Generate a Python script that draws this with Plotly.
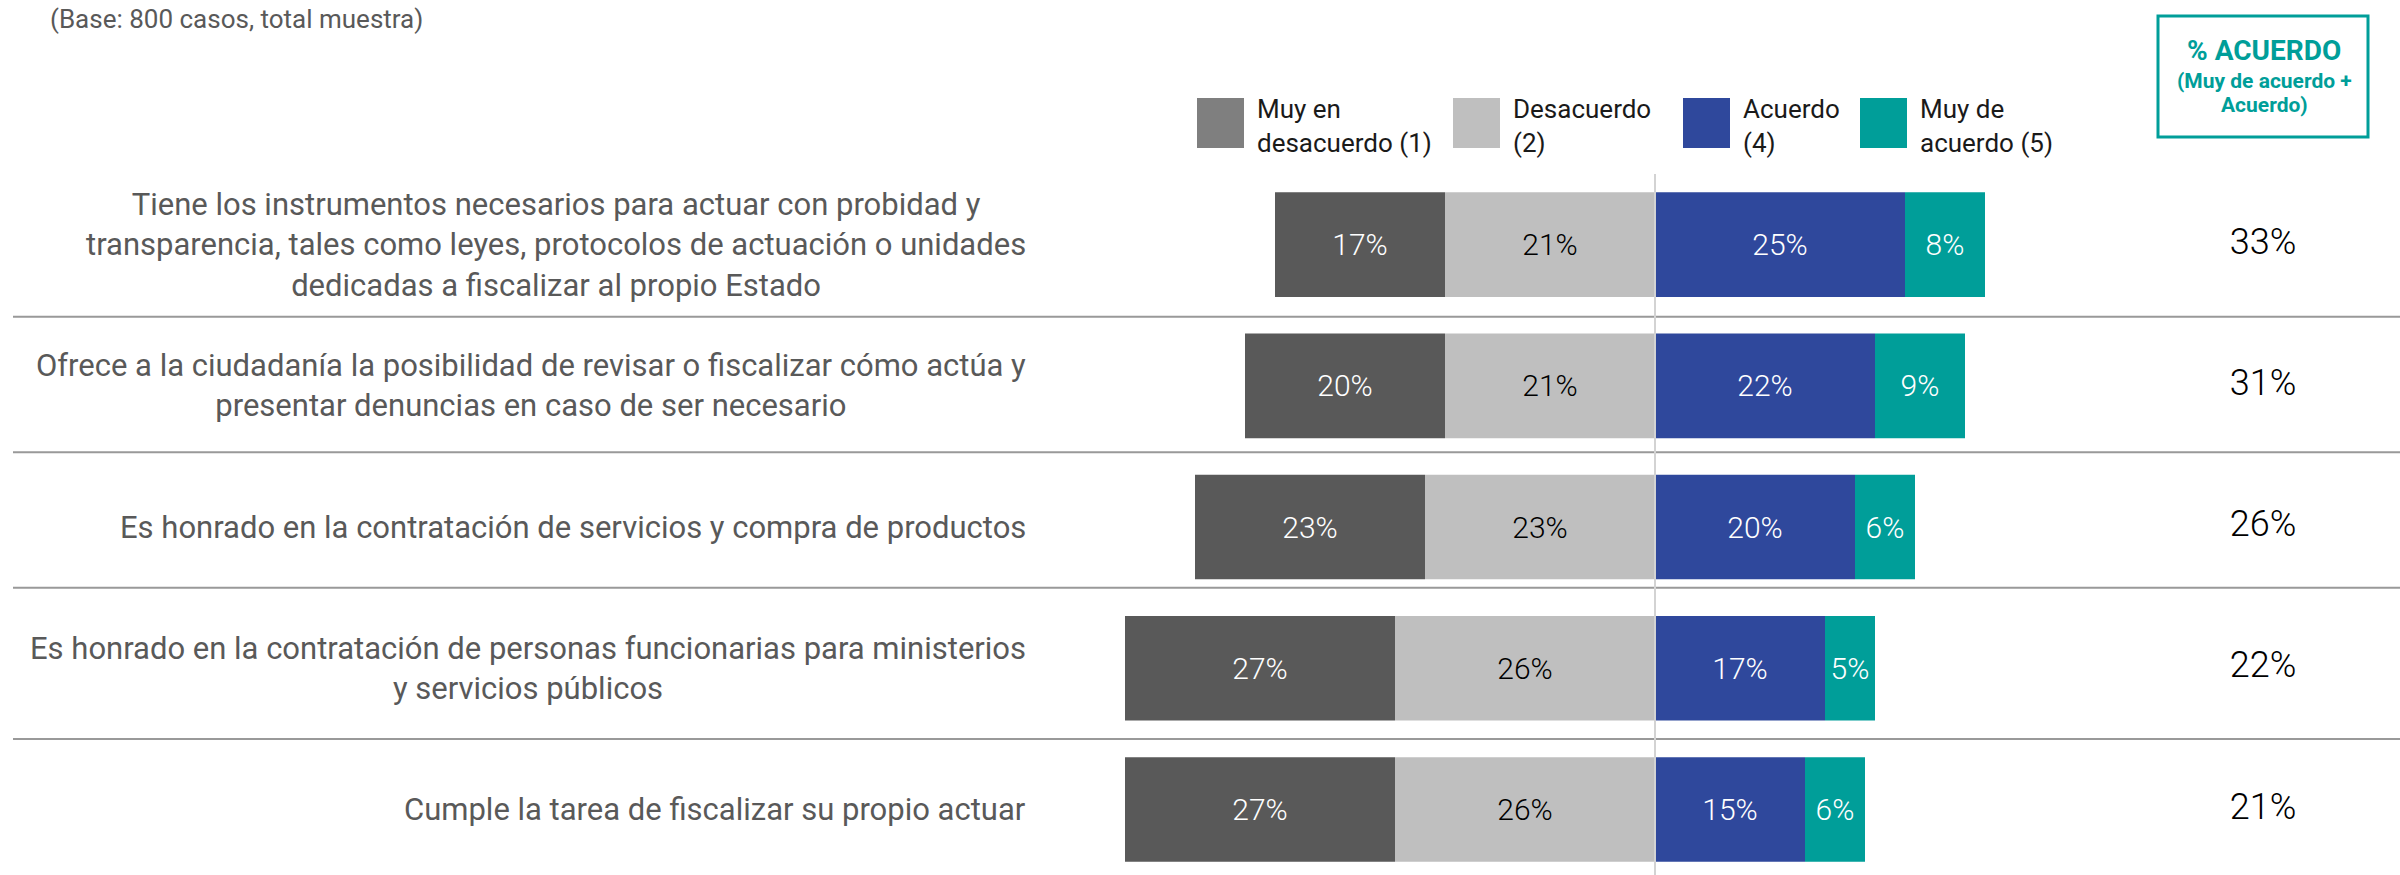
import plotly.graph_objects as go

afirmaciones = [
    'Tiene los instrumentos necesarios para actuar con probidad y<br>transparencia, tales como leyes, protocolos de actuación o unidades<br>dedicadas a fiscalizar al propio Estado',
    'Ofrece a la ciudadanía la posibilidad de revisar o fiscalizar cómo actúa y<br>presentar denuncias en caso de ser necesario',
    'Es honrado en la contratación de servicios y compra de productos',
    'Es honrado en la contratación de personas funcionarias para ministerios<br>y servicios públicos',
    'Cumple la tarea de fiscalizar su propio actuar',
]
muy_desacuerdo = [17, 20, 23, 27, 27]
desacuerdo = [21, 21, 23, 26, 26]
acuerdo = [25, 22, 20, 17, 15]
muy_acuerdo = [8, 9, 6, 5, 6]
total_acuerdo = [33, 31, 26, 22, 21]

categorias = ['Muy en<br>desacuerdo (1)', 'Desacuerdo<br>(2)', 'Acuerdo<br>(4)', 'Muy de<br>acuerdo (5)']
colores = ['#595959', '#bfbfbf', '#2f489c', '#009e99']
colores_leyenda = ['#7f7f7f', '#bfbfbf', '#2f489c', '#009e99']
colores_texto = ['white', 'black', 'white', 'white']

W, H, TOP = 2400, 875, 174


def px(x):
    return x / W


def py(y):
    return (H - y) / (H - TOP)


filas = list(range(len(afirmaciones)))
series = [muy_desacuerdo, desacuerdo, acuerdo, muy_acuerdo]
bases = [
    [-(a + b) for a, b in zip(muy_desacuerdo, desacuerdo)],
    [-b for b in desacuerdo],
    [0] * len(acuerdo),
    acuerdo,
]

fig = go.Figure()
for nombre, valores, base, color, ctexto in zip(categorias, series, bases, colores, colores_texto):
    fig.add_trace(go.Bar(
        y=filas, x=valores, base=base, orientation='h', name=nombre,
        width=0.74, marker=dict(color=color, line=dict(width=0)),
        text=[f'{v}%' for v in valores], textposition='inside',
        insidetextanchor='middle', constraintext='none', textangle=0,
        textfont=dict(family='Roboto', size=30, color=ctexto, weight=300),
    ))

# columna % acuerdo
fig.add_trace(go.Scatter(
    x=[60.8] * len(total_acuerdo), y=filas, mode='text',
    text=[f'{v}%' for v in total_acuerdo],
    textfont=dict(family='Roboto', size=36, color='black', weight=300),
))

shapes = []
# separadores de filas
for ysep in [0.51, 1.47, 2.43, 3.50]:
    shapes.append(dict(type='line', xref='paper', yref='y', x0=px(13), x1=1,
                       y0=ysep, y1=ysep, line=dict(color='#999999', width=2)))
# linea central
shapes.append(dict(type='line', xref='x', yref='paper', x0=0, x1=0, y0=0, y1=1,
                   line=dict(color='#d3d3d3', width=2), layer='above'))

annotations = []
for i, txt in enumerate(afirmaciones):
    annotations.append(dict(
        xref='paper', yref='y', x=px(1028), y=i, xanchor='right', yanchor='middle',
        align='center', text=txt, showarrow=False,
        font=dict(family='Roboto', size=31, color='#595959'),
    ))

# leyenda manual
ley_x = [1197, 1453, 1683, 1860]
for x0, nombre, color in zip(ley_x, categorias, colores_leyenda):
    shapes.append(dict(type='rect', xref='paper', yref='paper', x0=px(x0), x1=px(x0 + 47),
                       y0=py(148), y1=py(98), fillcolor=color, line=dict(width=0)))
    annotations.append(dict(
        xref='paper', yref='paper', x=px(x0 + 58), y=py(126), xanchor='left', yanchor='middle',
        align='left', text=nombre, showarrow=False,
        font=dict(family='Roboto', size=26, color='#1a1a1a'),
    ))

# caja % acuerdo
shapes.append(dict(type='rect', xref='paper', yref='paper', x0=px(2158), x1=px(2368),
                   y0=py(137), y1=py(16), line=dict(color='#009e99', width=3)))
annotations.append(dict(
    xref='paper', yref='paper', x=px(2264), y=py(50), xanchor='center', yanchor='middle',
    text='<b>% ACUERDO</b>', showarrow=False,
    font=dict(family='Roboto', size=28, color='#009e99'),
))
for yy, linea in zip([81, 105], ['<b>(Muy de acuerdo +</b>', '<b>Acuerdo)</b>']):
    annotations.append(dict(
        xref='paper', yref='paper', x=px(2264), y=py(yy), xanchor='center', yanchor='middle',
        text=linea, showarrow=False,
        font=dict(family='Roboto', size=21, color='#009e99'),
    ))

annotations.append(dict(
    xref='paper', yref='paper', x=px(48), y=py(2), xanchor='left', yanchor='top',
    text='(Base: 800 casos, total muestra)', showarrow=False,
    font=dict(family='Roboto', size=26, color='#595959'),
))

fig.update_layout(
    width=W, height=H, barmode='overlay', showlegend=False,
    margin=dict(l=0, r=0, t=TOP, b=0),
    plot_bgcolor='white', paper_bgcolor='white',
    xaxis=dict(range=[-165.5, 74.5], visible=False, fixedrange=True),
    yaxis=dict(range=[4.463, -0.5], visible=False, fixedrange=True),
    shapes=shapes, annotations=annotations,
    font=dict(family='Roboto'),
)

fig.write_html('out.html', config={'displayModeBar': False},
               post_script="document.body.style.margin='0';")
